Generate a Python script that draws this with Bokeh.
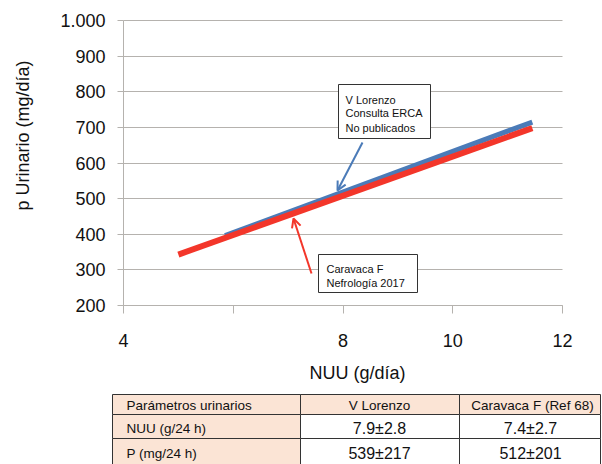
import math
from bokeh.plotting import figure
from bokeh.models import (Range1d, FixedTicker, Arrow, OpenHead, BoxAnnotation, Label,
                          LinearAxis, Grid)
from bokeh.core.properties import value
from bokeh.embed import file_html
from bokeh.resources import INLINE

# ---- data ----
red_x = [5.0, 11.45]
red_y = [343, 698]
blue_x = [5.85, 11.45]
blue_y = [396, 715]

x_ticks = [4, 6, 8, 10, 12]
y_ticks = [200, 300, 400, 500, 600, 700, 800, 900, 1000]

note_blue = ["V Lorenzo", "Consulta ERCA", "No publicados"]
note_red = ["Caravaca F", "Nefrología 2017"]

tbl_header = ["Parámetros urinarios", "V Lorenzo", "Caravaca F (Ref 68)"]
tbl_rows = ["NUU (g/24 h)", "P (mg/24 h)"]
tbl_vlorenzo = ["7.9±2.8", "539±217"]
tbl_caravaca = ["7.4±2.7", "512±201"]

FONT = "Liberation Sans"
RED = "#F3362A"
BLUE = "#4B7BB8"
GRID = "#B5B2AE"
INK = "#111111"

W, H = 602, 464
PL, PR, PT, PB = 123, 562, 20, 305  # chart area in canvas pixels
X0, X1, Y0, Y1 = 4, 12, 200, 1000
SX = (PR - PL) / (X1 - X0)
SY = (PB - PT) / (Y1 - Y0)


def px2x(px):
    return X0 + (px - PL) / SX


def px2y(py):
    return Y0 + (PB - py) / SY


# ---- chart: the frame spans the whole canvas, axes sit at fixed locations ----
p = figure(width=W, height=H,
           x_range=Range1d(px2x(0), px2x(W)), y_range=Range1d(px2y(H), px2y(0)),
           output_backend="svg", toolbar_location=None,
           x_axis_type=None, y_axis_type=None,
           min_border_left=0, min_border_right=0, min_border_top=0, min_border_bottom=0)
p.outline_line_color = None
p.grid.grid_line_color = None

p.add_layout(Grid(dimension=1, ticker=FixedTicker(ticks=y_ticks), bounds=(Y0, Y1),
                  cross_bounds=(X0, X1), grid_line_color=GRID, level="underlay"))

xaxis = LinearAxis(fixed_location=Y0, bounds=(X0, X1), ticker=FixedTicker(ticks=x_ticks),
                   major_label_overrides={6: ""})
yaxis = LinearAxis(fixed_location=X0, bounds=(Y0, Y1), ticker=FixedTicker(ticks=y_ticks),
                   major_label_overrides={1000: "1.000"})
for ax in (xaxis, yaxis):
    ax.axis_line_color = GRID
    ax.major_tick_line_color = GRID
    ax.minor_tick_line_color = None
    ax.major_tick_in = 0
    ax.major_label_text_font = FONT
    ax.major_label_text_font_size = "18px"
    ax.major_label_text_color = INK
xaxis.major_tick_out = 8
xaxis.major_label_standoff = 20
yaxis.major_tick_out = 6
yaxis.major_label_standoff = 12
p.add_layout(xaxis, "below")
p.add_layout(yaxis, "left")

# axis titles
p.add_layout(Label(x=px2x(357), y=px2y(372), text="NUU (g/día)", text_font=FONT,
                   text_font_size="18px", text_align="center", text_baseline="middle",
                   text_color=INK))
p.add_layout(Label(x=px2x(22), y=px2y(135), text="p Urinario (mg/día)", text_font=FONT,
                   text_font_size="18px", text_align="center", text_baseline="middle",
                   angle=math.pi / 2, text_color=INK))

p.line(blue_x, blue_y, line_color=BLUE, line_width=5)
p.line(red_x, red_y, line_color=RED, line_width=6)

# annotation boxes
p.quad(left=[px2x(338), px2x(318)], right=[px2x(430), px2x(417)],
       top=[px2y(84), px2y(254)], bottom=[px2y(138), px2y(292)],
       fill_color="white", line_color="#333333", line_width=1)

p.text(x=[px2x(345)] * 3, y=[px2y(99), px2y(112.5), px2y(127)], text=note_blue,
       text_font=value(FONT), text_font_size="11px", text_baseline="middle", text_color=INK)
p.text(x=[px2x(326)] * 2, y=[px2y(268.5), px2y(282)], text=note_red,
       text_font=value(FONT), text_font_size="11px", text_baseline="middle", text_color=INK)

p.add_layout(Arrow(end=OpenHead(size=9, line_color=BLUE, line_width=2),
                   x_start=px2x(362), y_start=px2y(142), x_end=px2x(337), y_end=px2y(190),
                   line_color=BLUE, line_width=2))
p.add_layout(Arrow(end=OpenHead(size=9, line_color=RED, line_width=2),
                   x_start=px2x(311), y_start=px2y(273), x_end=px2x(293), y_end=px2y(218),
                   line_color=RED, line_width=2))

# ---- table below the chart ----
col_edges = [112, 300, 459, 600]
row_edges = [394, 414, 438, 470]
PEACH = "#FBE4D5"
for r in range(3):
    for c in range(3):
        p.add_layout(BoxAnnotation(
            left=px2x(col_edges[c]), right=px2x(col_edges[c + 1]),
            top=px2y(row_edges[r]), bottom=px2y(row_edges[r + 1]),
            fill_color=PEACH if (r == 0 or c == 0) else "white", fill_alpha=1.0,
            line_color="#333333", line_width=1, line_alpha=1.0, level="overlay"))

row_mid = [405, 428, 453]
first_col = [tbl_header[0]] + tbl_rows
for i, txt in enumerate(first_col):
    p.add_layout(Label(x=px2x(126), y=px2y(row_mid[i]), text=txt,
                       text_font=FONT, text_font_size="13.5px", text_baseline="middle",
                       text_color=INK, level="overlay"))
hdr_mid = [379, 532]
for j, txt in enumerate(tbl_header[1:]):
    p.add_layout(Label(x=px2x(hdr_mid[j]), y=px2y(row_mid[0]), text=txt,
                       text_font=FONT, text_font_size="13.5px", text_baseline="middle",
                       text_align="center", text_color=INK, level="overlay"))
val_mid = [379, 530]
for i in range(2):
    for j, vals in enumerate([tbl_vlorenzo, tbl_caravaca]):
        p.add_layout(Label(x=px2x(val_mid[j]), y=px2y(row_mid[i + 1]), text=vals[i],
                           text_font=FONT, text_font_size="16px",
                           text_baseline="middle", text_align="center", text_color=INK,
                           level="overlay"))

open("out.html", "w").write(file_html(p, INLINE))
